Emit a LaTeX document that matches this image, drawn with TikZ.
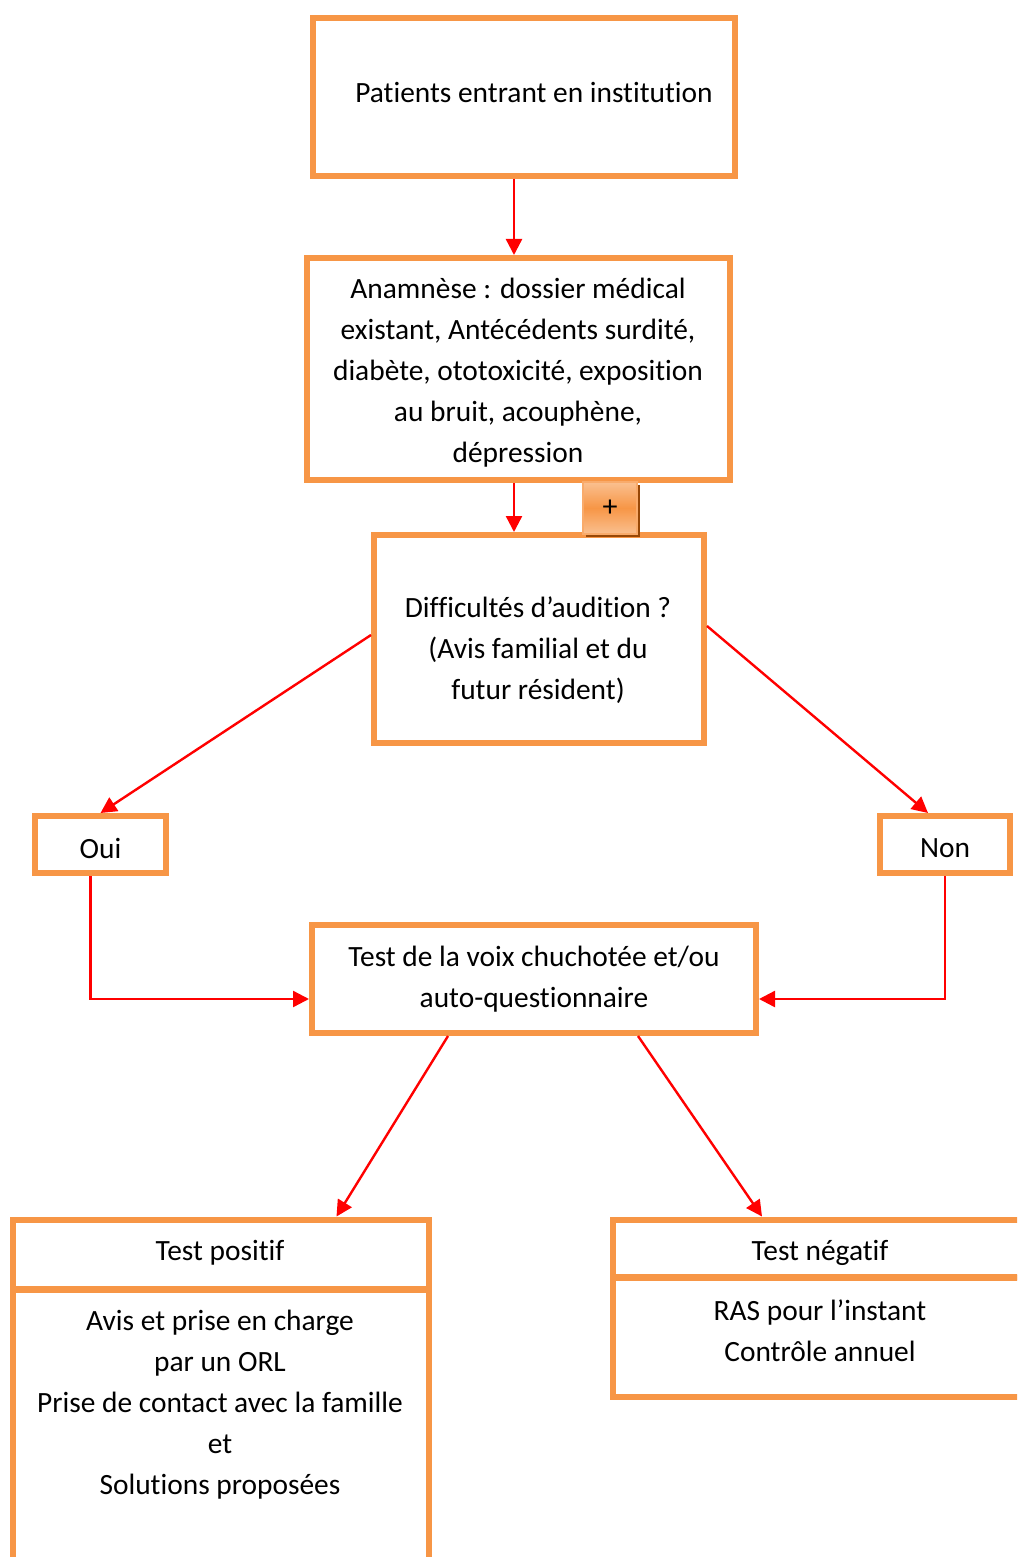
\documentclass[tikz,border=0pt]{standalone}
\usepackage{fontspec}
\setmainfont[Ligatures=NoCommon]{Carlito}
\usetikzlibrary{arrows.meta,shadows}
\definecolor{boxorange}{HTML}{F79646}
\definecolor{btnlight}{HTML}{FAC090}
\definecolor{btnshadow}{HTML}{984807}
\tikzset{
  box/.style={draw=boxorange, line width=3pt, inner sep=0pt},
  txt/.style={align=center, inner sep=0pt, font=\fontsize{14.7}{20.5}\selectfont},
  link/.style={draw=red, line width=1.2pt, -{Triangle[length=8pt,width=8pt]}},
}
\begin{document}
\begin{tikzpicture}[x=0.5pt, y=-0.5pt]
    \useasboundingbox (0,0) rectangle (1017,1557);
    \clip (0,0) rectangle (1017,1557);
    % boxes
    \node[box, minimum width=211pt, minimum height=79pt] (entree) at (524,97) {};
    \node[box, minimum width=211.5pt, minimum height=111pt] (anamnese) at (518.5,369) {};
    \node[box, minimum width=165pt, minimum height=104pt] (difficulte) at (539,639) {};
    \node[box, minimum width=65.5pt, minimum height=28.5pt] (oui) at (100.5,844.5) {};
    \node[box, minimum width=65pt, minimum height=28.5pt] (non) at (945,844.5) {};
    \node[box, minimum width=222pt, minimum height=54pt] (test) at (534,979) {};
    \node[box, minimum width=208pt, minimum height=155.5pt] (posbody) at (220.5,1444.5) {};
    \node[box, minimum width=208pt, minimum height=35pt] (pos) at (220.5,1254.5) {};
    \node[box, minimum width=207pt, minimum height=59.75pt] (negbody) at (820,1337) {};
    \node[box, minimum width=207pt, minimum height=29pt] (neg) at (820,1248.5) {};
    % button
    \node[draw=boxorange!80!white, line width=0.6pt, top color=btnlight, bottom color=btnlight,
          middle color=boxorange, minimum width=27pt, minimum height=26pt, inner sep=0pt,
          general shadow={fill=btnshadow, shadow xshift=1.5pt, shadow yshift=-1.5pt}]
          (plus) at (610,508) {\fontsize{15}{17}\selectfont +};
    % texts
    \node[txt] (t1) at (534,92) {Patients entrant en institution};
    \node[txt] (t2) at (518,372.5) {Anamnèse : dossier médical\\existant, Antécédents surdité,\\diabète, ototoxicité, exposition\\au bruit, acouphène,\\dépression};
    \node[txt] (t3) at (538,650.5) {Difficultés d’audition ?\\(Avis familial et du\\futur résident)};
    \node[txt] (t4) at (100.5,848) {Oui};
    \node[txt] (t5) at (945,848) {Non};
    \node[txt] (t6) at (534,979) {Test de la voix chuchotée et/ou\\auto-questionnaire};
    \node[txt] (t7) at (220,1253) {Test positif};
    \node[txt] (t8) at (220,1405) {Avis et prise en charge\\par un ORL\\Prise de contact avec la famille\\et\\Solutions proposées};
    \node[txt] (t9) at (820,1253) {Test négatif};
    \node[txt] (t10) at (820,1331) {RAS pour l’instant\\Contrôle annuel};
    % arrows
    \draw[link] ([xshift=-5pt]entree.south) -- ([xshift=-5pt]entree.south |- anamnese.north);
    \draw[link] ([xshift=-2.25pt]anamnese.south) -- ([xshift=-2.25pt]anamnese.south |- difficulte.north);
    \draw[link] ([yshift=2pt]difficulte.west) -- (oui.north);
    \draw[link] ([yshift=6.5pt]difficulte.east) -- ([xshift=-8.5pt]non.north);
    \draw[link] ([xshift=-5pt]oui.south) |- ([yshift=-10pt]test.west);
    \draw[link] (non.south) |- ([yshift=-10pt]test.east);
    \draw[link] ([xshift=-43pt]test.south) -- ([xshift=58pt]pos.north);
    \draw[link] ([xshift=52pt]test.south) -- ([xshift=-29pt]neg.north);
\end{tikzpicture}
\end{document}
